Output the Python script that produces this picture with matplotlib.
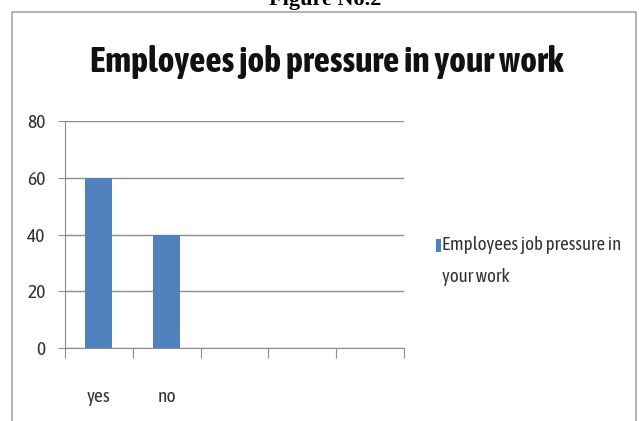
import matplotlib.pyplot as plt
from matplotlib.patches import Rectangle
import numpy as np

# Datos del gráfico
categorias = ['yes', 'no', '', '', '']
valores = [60, 40]
serie = 'Employees job pressure in\nyour work'
titulo = 'Employees job pressure in your work'
yticks = [0, 20, 40, 60, 80]

fuente = ['Asap Condensed', 'Open Sans', 'DejaVu Sans']
plt.rcParams['font.family'] = fuente

azul = '#4F81BD'
gris = '#8C8C8C'
W, H = 639, 421

fig = plt.figure(figsize=(W / 100, H / 100), dpi=100)
fig.patch.set_facecolor('white')
renderer = fig.canvas.get_renderer()


def ajustar_ancho(texto, ancho_px):
    """Escala el tamaño de letra hasta que el texto mida ancho_px"""
    for _ in range(3):
        w = texto.get_window_extent(renderer).width
        texto.set_fontsize(texto.get_fontsize() * ancho_px / w)


# Marco del gráfico (sin borde inferior visible)
marco = Rectangle((12 / W, -0.05), (636 - 12) / W, (H - 12) / H + 0.05,
                  transform=fig.transFigure, fill=False, edgecolor='#A6A6A6',
                  linewidth=1.2, clip_on=False)
fig.add_artist(marco)

# Texto de la figura, cortado arriba
fig.text(325 / W, 1 - 5 / H, 'Figure No.2', ha='center', va='baseline',
         fontsize=16, fontweight='bold', family=['Liberation Serif', 'DejaVu Serif'])

ax = fig.add_axes([65 / W, (H - 348) / H, 339 / W, 227 / H])

x = np.arange(len(valores)) + 0.5
barras = ax.bar(x, valores, width=0.4, color=azul, zorder=3, label=serie)

ax.set_xlim(0, len(categorias))
ax.set_ylim(0, 80)
ax.set_yticks(yticks)
ax.yaxis.grid(True, color=gris, linewidth=1.0, zorder=0)
ax.tick_params(axis='y', length=5, color=gris, pad=9, labelsize=14, labelcolor='#333333')

# Marcas entre categorías y etiquetas centradas
ax.set_xticks(np.arange(len(categorias) + 1))
ax.set_xticklabels([])
ax.set_xticks(np.arange(len(categorias)) + 0.5, minor=True)
ax.set_xticklabels(categorias, minor=True)
ax.tick_params(axis='x', which='major', length=7, color=gris, direction='out')
ax.tick_params(axis='x', which='minor', length=0, pad=29, labelsize=14, labelcolor='#333333')

for lado in ['top', 'right']:
    ax.spines[lado].set_visible(False)
for lado in ['left', 'bottom']:
    ax.spines[lado].set_color(gris)

t = fig.text(327 / W, 1 - 62 / H, titulo, ha='center', va='center',
             fontsize=26, fontweight='bold', color='#111111')
ajustar_ancho(t, 473)

# Leyenda a la derecha: cuadro alineado con la primera línea
fig.add_artist(Rectangle((436 / W, 1 - 252 / H), 5 / W, 13 / H,
                         transform=fig.transFigure, facecolor=azul, edgecolor='none'))
ley = fig.text(442 / W, 1 - 261 / H, barras.get_label(), ha='left', va='center',
               fontsize=14, color='#333333', linespacing=2.0)
ajustar_ancho(ley, 180)

fig.savefig('out.png', dpi=100)
